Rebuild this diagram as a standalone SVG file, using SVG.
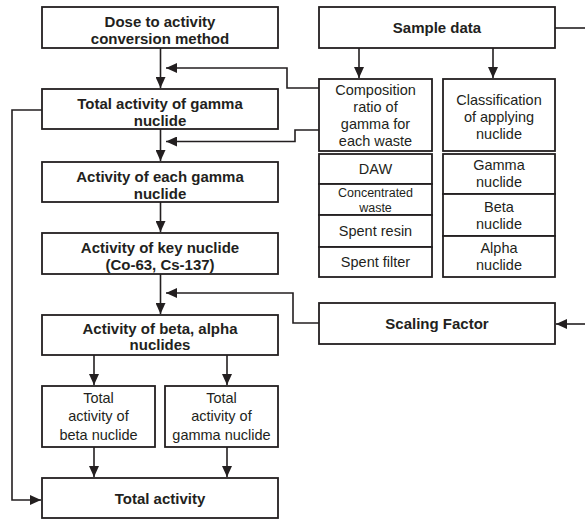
<svg xmlns="http://www.w3.org/2000/svg" width="585" height="520" viewBox="0 0 585 520">
<style>
.box{fill:#fff;stroke:#231f20;stroke-width:1.8}
.ln{fill:none;stroke:#231f20;stroke-width:1.6}
text{font-family:"Liberation Sans",Arial,sans-serif;fill:#231f20;text-anchor:middle}
.b{font-weight:bold;font-size:15px}
.r{font-size:14.5px}
.s{font-size:12.5px}
</style>
<defs>
<marker id="ah" markerUnits="userSpaceOnUse" markerWidth="11" markerHeight="10" refX="11" refY="5" orient="auto">
<path d="M0,0 L11,5 L0,10 z" fill="#231f20"/>
</marker>
</defs>
<rect width="585" height="520" fill="#fff"/>
<g id="connectors">
<path class="ln" d="M160.5,48 V88" marker-end="url(#ah)"/>
<path class="ln" d="M160.5,129 V161" marker-end="url(#ah)"/>
<path class="ln" d="M160.5,202 V232" marker-end="url(#ah)"/>
<path class="ln" d="M160.5,274 V314" marker-end="url(#ah)"/>
<path class="ln" d="M94,355 V385" marker-end="url(#ah)"/>
<path class="ln" d="M227,355 V385" marker-end="url(#ah)"/>
<path class="ln" d="M94,447 V477" marker-end="url(#ah)"/>
<path class="ln" d="M227,447 V477" marker-end="url(#ah)"/>
<path class="ln" d="M42,110 H12 V500 H41" marker-end="url(#ah)"/>
<path class="ln" d="M359,48 V78" marker-end="url(#ah)"/>
<path class="ln" d="M493,48 V78" marker-end="url(#ah)"/>
<path class="ln" d="M555,28 H585"/>
<path class="ln" d="M585,324 H556" marker-end="url(#ah)"/>
<path class="ln" d="M319,88 H287 V68 H166" marker-end="url(#ah)"/>
<path class="ln" d="M319,130 H295 V141.5 H166" marker-end="url(#ah)"/>
<path class="ln" d="M319,323 H293 V293 H166" marker-end="url(#ah)"/>
</g>
<g id="dose">
<rect class="box" x="42" y="7" width="236" height="41"/>
<text class="b" x="160" y="26.5">Dose to activity</text>
<text class="b" x="160" y="43.5">conversion method</text>
</g>
<g id="total-gamma">
<rect class="box" x="42" y="89" width="236" height="40"/>
<text class="b" x="160" y="108.5">Total activity of gamma</text>
<text class="b" x="160" y="125.5">nuclide</text>
</g>
<g id="each-gamma">
<rect class="box" x="42" y="162" width="236" height="40"/>
<text class="b" x="160" y="181.5">Activity of each gamma</text>
<text class="b" x="160" y="198.5">nuclide</text>
</g>
<g id="key-nuclide">
<rect class="box" x="42" y="233" width="236" height="41"/>
<text class="b" x="160" y="252.5">Activity of key nuclide</text>
<text class="b" x="160" y="269.5">(Co-63, Cs-137)</text>
</g>
<g id="beta-alpha">
<rect class="box" x="42" y="315" width="236" height="40"/>
<text class="b" x="160" y="333.5">Activity of beta, alpha</text>
<text class="b" x="160" y="350">nuclides</text>
</g>
<g id="total-beta">
<rect class="box" x="42" y="386" width="113" height="61"/>
<text class="r" x="98.5" y="402.5">Total</text>
<text class="r" x="98.5" y="421">activity of</text>
<text class="r" x="98.5" y="439.5">beta nuclide</text>
</g>
<g id="total-gamma2">
<rect class="box" x="165" y="386" width="113" height="61"/>
<text class="r" x="221.5" y="402.5">Total</text>
<text class="r" x="221.5" y="421">activity of</text>
<text class="r" x="221.5" y="439.5">gamma nuclide</text>
</g>
<g id="total-activity">
<rect class="box" x="42" y="478" width="236" height="40"/>
<text class="b" x="160" y="503.5">Total activity</text>
</g>
<g id="sample">
<rect class="box" x="319" y="7" width="236" height="41"/>
<text class="b" x="437" y="32.5">Sample data</text>
</g>
<g id="composition">
<rect class="box" x="319" y="79" width="113" height="72"/>
<text class="r" x="375.5" y="95">Composition</text>
<text class="r" x="375.5" y="112">ratio of</text>
<text class="r" x="375.5" y="129">gamma for</text>
<text class="r" x="375.5" y="146">each waste</text>
</g>
<g id="waste-types">
<rect class="box" x="319" y="154" width="113" height="30"/>
<text class="r" x="375.5" y="173.5">DAW</text>
<rect class="box" x="319" y="184" width="113" height="31"/>
<text class="s" x="375.5" y="197">Concentrated</text>
<text class="s" x="375.5" y="211.5">waste</text>
<rect class="box" x="319" y="215" width="113" height="32"/>
<text class="r" x="375.5" y="236">Spent resin</text>
<rect class="box" x="319" y="247" width="113" height="30"/>
<text class="r" x="375.5" y="266.5">Spent filter</text>
</g>
<g id="classification">
<rect class="box" x="443" y="79" width="112" height="72"/>
<text class="r" x="499" y="105">Classification</text>
<text class="r" x="499" y="121.5">of applying</text>
<text class="r" x="499" y="138.5">nuclide</text>
</g>
<g id="nuclide-types">
<rect class="box" x="443" y="154" width="112" height="40"/>
<text class="r" x="499" y="170">Gamma</text>
<text class="r" x="499" y="187">nuclide</text>
<rect class="box" x="443" y="194" width="112" height="42"/>
<text class="r" x="499" y="211.5">Beta</text>
<text class="r" x="499" y="229">nuclide</text>
<rect class="box" x="443" y="236" width="112" height="41"/>
<text class="r" x="499" y="253">Alpha</text>
<text class="r" x="499" y="270">nuclide</text>
</g>
<g id="scaling">
<rect class="box" x="319" y="303" width="236" height="41"/>
<text class="b" x="437" y="329">Scaling Factor</text>
</g>
</svg>
